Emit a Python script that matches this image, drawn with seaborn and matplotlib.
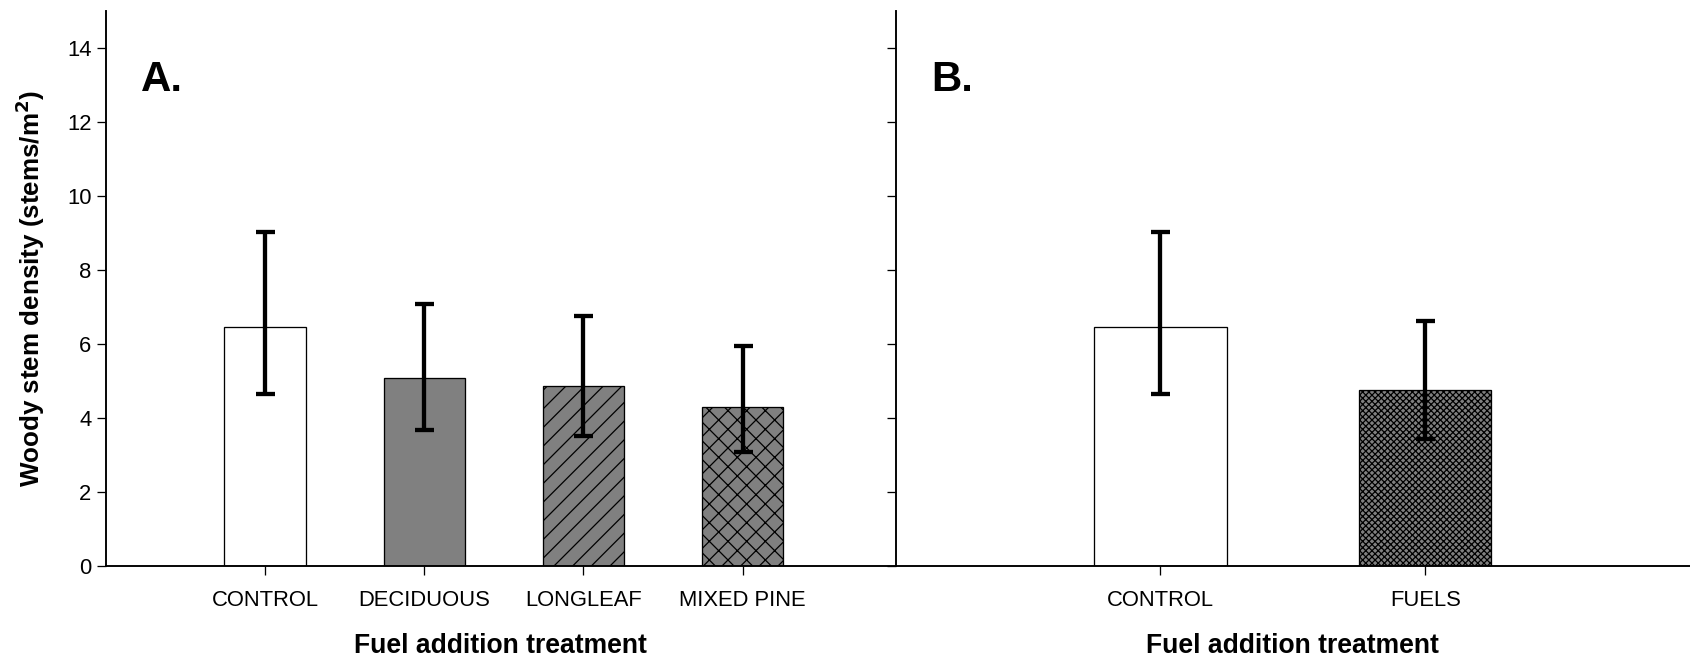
import matplotlib
matplotlib.use("Agg")
import matplotlib.pyplot as plt
import seaborn as sns
import pandas as pd
import numpy as np

sns.set_style("ticks")
plt.rcParams['font.family'] = ['Liberation Sans', 'DejaVu Sans']
for k in ("text.color", "axes.labelcolor", "xtick.color", "ytick.color", "axes.edgecolor"):
    plt.rcParams[k] = "black"

DPI = 112


def pt(px):
    """convert pixels to points at the figure dpi"""
    return px * 72.0 / DPI


plt.rcParams['hatch.linewidth'] = pt(1.25)

# Panel A data
cats_a = ["CONTROL", "DECIDUOUS", "LONGLEAF", "MIXED PINE"]
mean_a = [6.46, 5.09, 4.86, 4.28]
upper_a = [9.02, 7.08, 6.76, 5.95]
lower_a = [4.64, 3.67, 3.50, 3.07]
colors_a = ["white", "#808080", "#808080", "#808080"]
hatches_a = ["", "", "//", "xx"]

# Panel B data
cats_b = ["CONTROL", "FUELS"]
mean_b = [6.46, 4.74]
upper_b = [9.02, 6.61]
lower_b = [4.64, 3.42]
colors_b = ["white", "#808080"]
hatches_b = ["", "xxxxxx"]

yticks = [0, 2, 4, 6, 8, 10, 12, 14]

W, H = 1690, 661
fig = plt.figure(figsize=(W / DPI, H / DPI), dpi=DPI)
bottom = (H - 566) / H
top = (H - 10.5) / H
xa0, xa1, xb1 = 105.6 / W, 895.7 / W, 1.0
axA = fig.add_axes([xa0, bottom, xa1 - xa0, top - bottom])
axB = fig.add_axes([xa1, bottom, xb1 - xa1, top - bottom])


def panel(ax, cats, means, lo, hi, colors, hatches, width, xmax, letter, show_ylabels):
    df = pd.DataFrame({"cat": cats, "val": means})
    sns.barplot(data=df, x="cat", y="val", hue="cat", palette=colors, legend=False,
                ax=ax, width=width, edgecolor="black", linewidth=pt(1.3), errorbar=None,
                dodge=False)
    for p, h in zip(ax.patches, hatches):
        p.set_hatch(h)
    x = np.arange(len(cats))
    yerr = np.array([np.array(means) - np.array(lo), np.array(hi) - np.array(means)])
    ax.errorbar(x, means, yerr=yerr, fmt="none", ecolor="black", elinewidth=pt(4.3),
                capsize=pt(9.5), capthick=pt(4.3), zorder=5)
    ax.set_xlim(-1.0, xmax)
    ax.set_ylim(0, 15)
    ax.set_yticks(yticks)
    ax.spines["top"].set_visible(False)
    ax.spines["right"].set_visible(False)
    for s in ("left", "bottom"):
        ax.spines[s].set_linewidth(pt(1.9))
    ax.tick_params(axis="both", direction="out", length=pt(9), width=pt(1.3),
                   labelsize=pt(22), colors="black", pad=pt(5))
    ax.tick_params(axis="x", pad=pt(15))
    if not show_ylabels:
        ax.set_yticklabels([])
    ax.set_xlabel("Fuel addition treatment", fontsize=pt(26.5), fontweight="bold",
                  labelpad=pt(22))
    ax.set_ylabel("")
    ax.text(0.045, 0.875, letter, transform=ax.transAxes, fontsize=pt(42),
            fontweight="bold", ha="left", va="center")


panel(axA, cats_a, mean_a, lower_a, upper_a, colors_a, hatches_a, 0.51, 3.96, "A.", True)
panel(axB, cats_b, mean_b, lower_b, upper_b, colors_b, hatches_b, 0.5, 2.0, "B.", False)

axA.set_ylabel("Woody stem density (stems/m$^\\mathbf{2}$)", fontsize=pt(26),
               fontweight="bold", labelpad=pt(20))

fig.savefig("out.png", dpi=DPI)
